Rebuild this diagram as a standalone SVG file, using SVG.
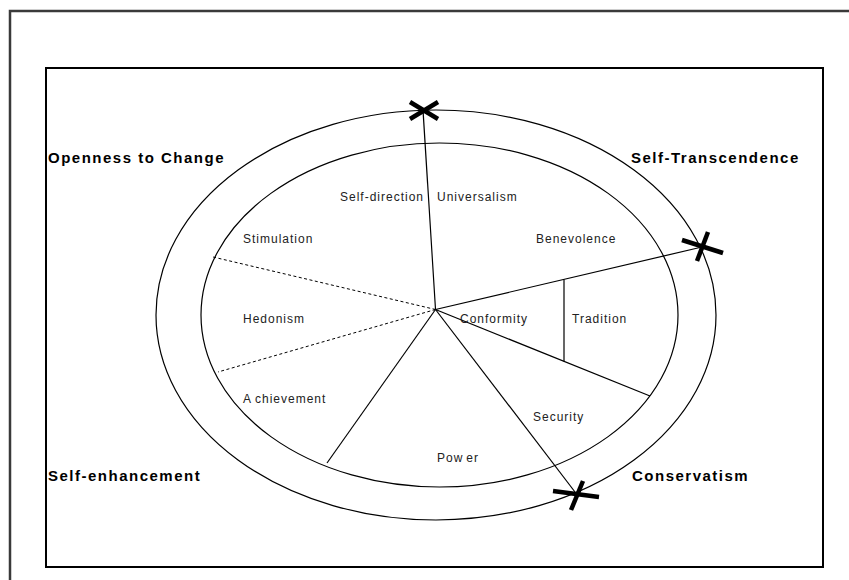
<svg xmlns="http://www.w3.org/2000/svg" width="849" height="580" viewBox="0 0 849 580">
  <style>
    .frame { fill: none; stroke: #3a3a3a; stroke-width: 2.5; }
    .box { fill: none; stroke: #000; stroke-width: 2; }
    .ring { fill: none; stroke: #000; stroke-width: 1.2; }
    .spoke { fill: none; stroke: #000; stroke-width: 1.2; }
    .dotted { fill: none; stroke: #000; stroke-width: 1; stroke-dasharray: 3 2.5; }
    .mark { fill: none; stroke: #000; stroke-width: 4.5; stroke-linecap: butt; }
    .dim { font-family: "Liberation Sans", Arial, sans-serif; font-size: 15px; font-weight: bold; letter-spacing: 1.5px; fill: #000; }
    .val { font-family: "Liberation Sans", Arial, sans-serif; font-size: 12px; letter-spacing: 1px; fill: #222; }
  </style>

  <!-- page frame and drawing box -->
  <rect class="frame" x="10" y="11" width="860" height="600"/>
  <rect class="box" x="46" y="68" width="777" height="499"/>

  <!-- value circle: outer and inner rings -->
  <g id="rings">
    <ellipse class="ring" cx="436" cy="315" rx="280" ry="205"/>
    <ellipse class="ring" cx="439.5" cy="315" rx="238.5" ry="172"/>
  </g>

  <!-- sector dividers -->
  <g id="connectors">
    <line class="spoke" x1="435.5" y1="309.5" x2="423" y2="110"/>
    <line class="spoke" x1="435.5" y1="309.5" x2="702" y2="247"/>
    <line class="spoke" x1="435.5" y1="309.5" x2="575" y2="492"/>
    <line class="spoke" x1="435.5" y1="309.5" x2="650" y2="396"/>
    <line class="spoke" x1="435.5" y1="309.5" x2="327" y2="463"/>
    <line class="spoke" x1="564" y1="279.5" x2="564" y2="361.5"/>
    <line class="dotted" x1="435.5" y1="309.5" x2="213" y2="257"/>
    <line class="dotted" x1="435.5" y1="309.5" x2="218" y2="372"/>
  </g>

  <!-- boundary marks on the outer ring -->
  <g id="marks">
    <g id="mark-top">
      <line class="mark" x1="410" y1="102" x2="438" y2="119"/>
      <line class="mark" x1="410" y1="119" x2="438" y2="102"/>
    </g>
    <g id="mark-right">
      <line class="mark" x1="682" y1="240" x2="723" y2="253"/>
      <line class="mark" x1="708" y1="232" x2="697" y2="261"/>
    </g>
    <g id="mark-bottom">
      <line class="mark" x1="553" y1="491" x2="599" y2="497"/>
      <line class="mark" x1="583" y1="481" x2="571" y2="510"/>
    </g>
  </g>

  <!-- higher-order dimensions -->
  <g id="openness"><text class="dim" x="48" y="163">Openness to Change</text></g>
  <g id="self-transcendence"><text class="dim" x="631" y="163">Self-Transcendence</text></g>
  <g id="self-enhancement"><text class="dim" x="48" y="481">Self-enhancement</text></g>
  <g id="conservatism"><text class="dim" x="632" y="481">Conservatism</text></g>

  <!-- value types -->
  <g id="self-direction"><text class="val" x="340" y="201">Self-direction</text></g>
  <g id="universalism"><text class="val" x="437" y="201">Universalism</text></g>
  <g id="stimulation"><text class="val" x="243" y="243">Stimulation</text></g>
  <g id="benevolence"><text class="val" x="536" y="243">Benevolence</text></g>
  <g id="hedonism"><text class="val" x="243" y="323">Hedonism</text></g>
  <g id="conformity"><text class="val" x="460" y="323">Conformity</text></g>
  <g id="tradition"><text class="val" x="572" y="323">Tradition</text></g>
  <g id="achievement"><text class="val" x="243" y="403">A<tspan dx="3">chievement</tspan></text></g>
  <g id="security"><text class="val" x="533" y="421">Security</text></g>
  <g id="power"><text class="val" x="437" y="462">Pow<tspan dx="3">er</tspan></text></g>
</svg>
